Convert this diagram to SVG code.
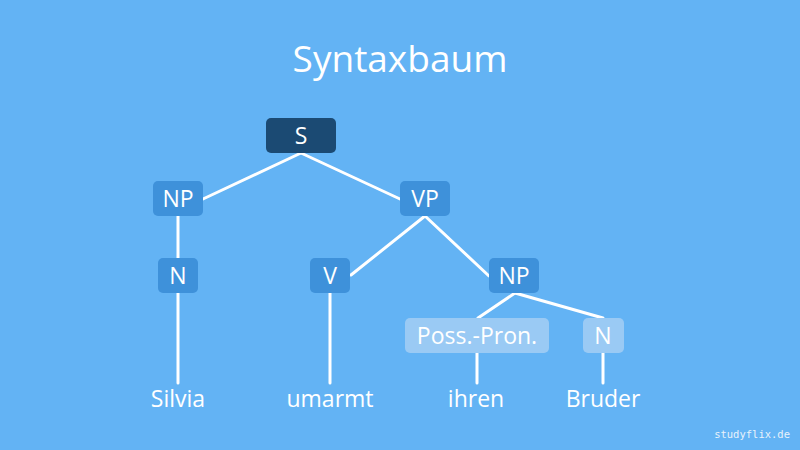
<svg xmlns="http://www.w3.org/2000/svg" width="800" height="450" viewBox="0 0 800 450">
<style>
.bg{fill:#63b3f4}
.dark{fill:#1b4a73}
.mid{fill:#3e91da}
.light{fill:#9acaf4}
.lbl{font-family:"Open Sans","DejaVu Sans",sans-serif;font-size:23px;fill:#ffffff;text-anchor:middle}
.word{font-family:"Open Sans","DejaVu Sans",sans-serif;font-size:23px;fill:#ffffff;text-anchor:middle}
.conn line{stroke:#ffffff;stroke-width:3;stroke-linecap:round}
</style>
<rect class="bg" x="0" y="0" width="800" height="450"/>
<text x="400" y="72" font-family="Open Sans, DejaVu Sans, sans-serif" font-size="37" fill="#ffffff" text-anchor="middle">Syntaxbaum</text>
<g class="conn" id="connectors">
<line x1="301" y1="153" x2="203" y2="199"/>
<line x1="301" y1="153" x2="400" y2="199"/>
<line x1="178" y1="216" x2="178" y2="258"/>
<line x1="425" y1="216" x2="351" y2="275"/>
<line x1="425" y1="216" x2="489" y2="276"/>
<line x1="515" y1="293" x2="478" y2="318"/>
<line x1="515" y1="293" x2="603" y2="318"/>
<line x1="178" y1="293" x2="178" y2="383"/>
<line x1="330" y1="293" x2="330" y2="383"/>
<line x1="477" y1="353" x2="477" y2="383"/>
<line x1="603" y1="353" x2="603" y2="383"/>
</g>
<g id="S"><rect class="dark" x="266" y="118" width="70" height="35" rx="5"/><text class="lbl" x="301" y="144">S</text></g>
<g id="NP1"><rect class="mid" x="153" y="181" width="50" height="35" rx="5"/><text class="lbl" x="178" y="207">NP</text></g>
<g id="VP"><rect class="mid" x="400" y="181" width="50" height="35" rx="5"/><text class="lbl" x="425" y="207">VP</text></g>
<g id="N1"><rect class="mid" x="158" y="258" width="40" height="35" rx="5"/><text class="lbl" x="178" y="284">N</text></g>
<g id="V"><rect class="mid" x="310" y="258" width="40" height="35" rx="5"/><text class="lbl" x="330" y="284">V</text></g>
<g id="NP2"><rect class="mid" x="489" y="258" width="50" height="35" rx="5"/><text class="lbl" x="514" y="284">NP</text></g>
<g id="PossPron"><rect class="light" x="405" y="318" width="144" height="35" rx="5"/><text class="lbl" x="477" y="344">Poss.-Pron.</text></g>
<g id="N2"><rect class="light" x="583" y="318" width="41" height="35" rx="5"/><text class="lbl" x="603" y="344">N</text></g>
<g id="words">
<text class="word" x="178" y="407">Silvia</text>
<text class="word" x="330" y="407">umarmt</text>
<text class="word" x="476" y="407">ihren</text>
<text class="word" x="603" y="407">Bruder</text>
</g>
<text x="790" y="438" font-family="DejaVu Sans Mono, monospace" font-size="10.5" fill="#e8f2fb" text-anchor="end">studyflix.de</text>
</svg>
